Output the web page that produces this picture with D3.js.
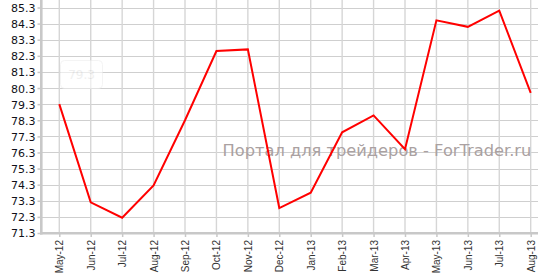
<!DOCTYPE html>
<html><head><meta charset="utf-8">
<script src="https://cdn.jsdelivr.net/npm/d3@7"></script>
<style>html,body{margin:0;padding:0;background:#fff;overflow:hidden}</style>
</head><body>
<svg id="c" width="538" height="277"></svg>
<script>
const categories = ["May-12","Jun-12","Jul-12","Aug-12","Sep-12","Oct-12","Nov-12","Dec-12","Jan-13","Feb-13","Mar-13","Apr-13","May-13","Jun-13","Jul-13","Aug-13"];
const values = [79.3,73.2,72.25,74.25,78.3,82.6,82.7,72.85,73.8,77.55,78.6,76.5,84.5,84.1,85.1,80.0];
const yTicks = [71.3,72.3,73.3,74.3,75.3,76.3,77.3,78.3,79.3,80.3,81.3,82.3,83.3,84.3,85.3];
const watermark = "Портал для трейдеров - ForTrader.ru";
const tooltipText = "79.3";

const svg = d3.select("#c");
const x = d3.scalePoint().domain(categories).range([59.3, 530.7]);
const y = d3.scaleLinear().domain([71.3, 85.3]).range([233, 7.5]);

// grid
svg.append("g").selectAll("line").data(yTicks).join("line")
  .attr("x1", 42).attr("x2", 538)
  .attr("y1", d => Math.round(y(d)) + 0.5).attr("y2", d => Math.round(y(d)) + 0.5)
  .attr("stroke", "#cfcfcf").attr("stroke-width", 1);
svg.append("g").selectAll("line").data(categories).join("line")
  .attr("x1", d => x(d)).attr("x2", d => x(d))
  .attr("y1", 0).attr("y2", 233)
  .attr("stroke", "#d6d6d6").attr("stroke-width", 1.4);

// watermark
const wm = svg.append("text").text(watermark)
  .attr("x", 222.5).attr("y", 156)
  .attr("font-family", "DejaVu Sans").attr("font-size", 16)
  .attr("fill", "#aaa1a1");
const w = wm.node().getComputedTextLength();
wm.attr("font-size", 16 * 309 / w);

// faded tooltip
const tip = svg.append("g").attr("opacity", 0.6);
tip.append("rect").attr("x", 60.5).attr("y", 60.5).attr("width", 42).attr("height", 28).attr("rx", 4)
  .attr("fill", "#fff").attr("stroke", "#eeeeee");
tip.append("text").text(tooltipText).attr("x", 81.5).attr("y", 79)
  .attr("text-anchor", "middle").attr("font-family", "DejaVu Sans").attr("font-size", 12).attr("fill", "#e6e6e6");

// y axis
const ya = svg.append("g").attr("transform", "translate(41.5,0)")
  .call(d3.axisLeft(y).tickValues(yTicks).tickFormat(d3.format(".1f")).tickSize(4).tickPadding(2));
ya.select(".domain").remove();
ya.selectAll(".tick line").attr("stroke", "#c8c8c8").attr("stroke-width", 1.5);
ya.selectAll(".tick text").attr("font-family", "DejaVu Sans").attr("font-size", 11).attr("fill", "#101018").attr("dy", "0.36em");
svg.append("line").attr("x1", 41.3).attr("x2", 41.3).attr("y1", 0).attr("y2", 234.5)
  .attr("stroke", "#c8c8c8").attr("stroke-width", 2.6);

// x axis
const xa = svg.append("g").attr("transform", "translate(0,233)")
  .call(d3.axisBottom(x).tickSize(4).tickPadding(4));
xa.select(".domain").remove();
xa.selectAll(".tick line").attr("stroke", "#c8c8c8").attr("stroke-width", 1.5);
xa.selectAll(".tick text")
  .attr("font-family", "Liberation Sans").attr("font-size", 10).attr("fill", "#333")
  .attr("transform", "rotate(-90)").attr("text-anchor", "end")
  .attr("x", -7).attr("y", 0).attr("dy", "0.35em");
svg.append("line").attr("x1", 40).attr("x2", 538).attr("y1", 233.3).attr("y2", 233.3)
  .attr("stroke", "#c8c8c8").attr("stroke-width", 2.6);

// series
svg.append("path").datum(values)
  .attr("d", d3.line().x((d, i) => x(categories[i])).y(d => y(d)))
  .attr("fill", "none").attr("stroke", "#ff0000").attr("stroke-width", 2);
</script>
</body></html>
